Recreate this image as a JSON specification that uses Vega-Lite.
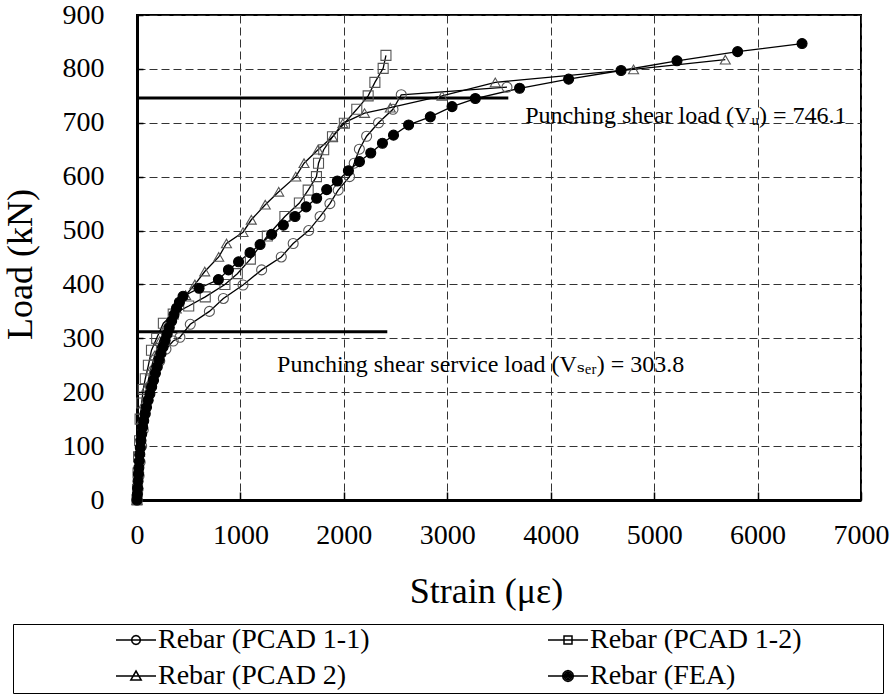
{
  "$schema": "https://vega.github.io/schema/vega-lite/v6.json",
  "width": 724,
  "height": 485,
  "autosize": {"type": "none"},
  "padding": {"left": 137, "top": 15, "right": 35, "bottom": 199},
  "background": "white",
  "config": {
    "view": {"stroke": "black", "strokeWidth": 2},
    "font": "Liberation Serif",
    "axis": {"labelFont": "Liberation Serif", "titleFont": "Liberation Serif"},
    "legend": {"labelFont": "Liberation Serif", "titleFont": "Liberation Serif"},
    "text": {"font": "Liberation Serif"}
  },
  "datasets": {
    "curves": [
      {"s": "Rebar (PCAD 1-1)", "strain": 0, "load": 0},
      {"s": "Rebar (PCAD 1-1)", "strain": 10, "load": 20},
      {"s": "Rebar (PCAD 1-1)", "strain": 20, "load": 45},
      {"s": "Rebar (PCAD 1-1)", "strain": 30, "load": 70},
      {"s": "Rebar (PCAD 1-1)", "strain": 45, "load": 100},
      {"s": "Rebar (PCAD 1-1)", "strain": 60, "load": 130},
      {"s": "Rebar (PCAD 1-1)", "strain": 80, "load": 160},
      {"s": "Rebar (PCAD 1-1)", "strain": 100, "load": 185},
      {"s": "Rebar (PCAD 1-1)", "strain": 130, "load": 210},
      {"s": "Rebar (PCAD 1-1)", "strain": 170, "load": 235},
      {"s": "Rebar (PCAD 1-1)", "strain": 220, "load": 258},
      {"s": "Rebar (PCAD 1-1)", "strain": 280, "load": 280},
      {"s": "Rebar (PCAD 1-1)", "strain": 350, "load": 295},
      {"s": "Rebar (PCAD 1-1)", "strain": 415, "load": 302},
      {"s": "Rebar (PCAD 1-1)", "strain": 515, "load": 326},
      {"s": "Rebar (PCAD 1-1)", "strain": 700, "load": 350},
      {"s": "Rebar (PCAD 1-1)", "strain": 835, "load": 374},
      {"s": "Rebar (PCAD 1-1)", "strain": 1025, "load": 399},
      {"s": "Rebar (PCAD 1-1)", "strain": 1205, "load": 427},
      {"s": "Rebar (PCAD 1-1)", "strain": 1395, "load": 451},
      {"s": "Rebar (PCAD 1-1)", "strain": 1510, "load": 476},
      {"s": "Rebar (PCAD 1-1)", "strain": 1660, "load": 500},
      {"s": "Rebar (PCAD 1-1)", "strain": 1770, "load": 526},
      {"s": "Rebar (PCAD 1-1)", "strain": 1865, "load": 550},
      {"s": "Rebar (PCAD 1-1)", "strain": 1945, "load": 575},
      {"s": "Rebar (PCAD 1-1)", "strain": 2055, "load": 600},
      {"s": "Rebar (PCAD 1-1)", "strain": 2100, "load": 625},
      {"s": "Rebar (PCAD 1-1)", "strain": 2150, "load": 651},
      {"s": "Rebar (PCAD 1-1)", "strain": 2220, "load": 675},
      {"s": "Rebar (PCAD 1-1)", "strain": 2335, "load": 700},
      {"s": "Rebar (PCAD 1-1)", "strain": 2475, "load": 725},
      {"s": "Rebar (PCAD 1-1)", "strain": 2555, "load": 752},
      {"s": "Rebar (PCAD 1-1)", "strain": 3577, "load": 766},

      {"s": "Rebar (PCAD 1-2)", "strain": 0, "load": 0},
      {"s": "Rebar (PCAD 1-2)", "strain": 5, "load": 20},
      {"s": "Rebar (PCAD 1-2)", "strain": 10, "load": 50},
      {"s": "Rebar (PCAD 1-2)", "strain": 15, "load": 80},
      {"s": "Rebar (PCAD 1-2)", "strain": 25, "load": 110},
      {"s": "Rebar (PCAD 1-2)", "strain": 30, "load": 150},
      {"s": "Rebar (PCAD 1-2)", "strain": 45, "load": 180},
      {"s": "Rebar (PCAD 1-2)", "strain": 60, "load": 205},
      {"s": "Rebar (PCAD 1-2)", "strain": 80, "load": 225},
      {"s": "Rebar (PCAD 1-2)", "strain": 110, "load": 250},
      {"s": "Rebar (PCAD 1-2)", "strain": 140, "load": 278},
      {"s": "Rebar (PCAD 1-2)", "strain": 190, "load": 300},
      {"s": "Rebar (PCAD 1-2)", "strain": 255, "load": 328},
      {"s": "Rebar (PCAD 1-2)", "strain": 350, "load": 345},
      {"s": "Rebar (PCAD 1-2)", "strain": 500, "load": 360},
      {"s": "Rebar (PCAD 1-2)", "strain": 660, "load": 377},
      {"s": "Rebar (PCAD 1-2)", "strain": 850, "load": 400},
      {"s": "Rebar (PCAD 1-2)", "strain": 970, "load": 420},
      {"s": "Rebar (PCAD 1-2)", "strain": 1096, "load": 447},
      {"s": "Rebar (PCAD 1-2)", "strain": 1260, "load": 490},
      {"s": "Rebar (PCAD 1-2)", "strain": 1430, "load": 526},
      {"s": "Rebar (PCAD 1-2)", "strain": 1570, "load": 551},
      {"s": "Rebar (PCAD 1-2)", "strain": 1655, "load": 575},
      {"s": "Rebar (PCAD 1-2)", "strain": 1735, "load": 600},
      {"s": "Rebar (PCAD 1-2)", "strain": 1755, "load": 625},
      {"s": "Rebar (PCAD 1-2)", "strain": 1805, "load": 650},
      {"s": "Rebar (PCAD 1-2)", "strain": 1890, "load": 674},
      {"s": "Rebar (PCAD 1-2)", "strain": 2005, "load": 699},
      {"s": "Rebar (PCAD 1-2)", "strain": 2125, "load": 725},
      {"s": "Rebar (PCAD 1-2)", "strain": 2235, "load": 750},
      {"s": "Rebar (PCAD 1-2)", "strain": 2300, "load": 775},
      {"s": "Rebar (PCAD 1-2)", "strain": 2380, "load": 801},
      {"s": "Rebar (PCAD 1-2)", "strain": 2407, "load": 825},

      {"s": "Rebar (PCAD 2)", "strain": 0, "load": 0},
      {"s": "Rebar (PCAD 2)", "strain": 8, "load": 30},
      {"s": "Rebar (PCAD 2)", "strain": 15, "load": 60},
      {"s": "Rebar (PCAD 2)", "strain": 25, "load": 90},
      {"s": "Rebar (PCAD 2)", "strain": 35, "load": 120},
      {"s": "Rebar (PCAD 2)", "strain": 50, "load": 150},
      {"s": "Rebar (PCAD 2)", "strain": 70, "load": 180},
      {"s": "Rebar (PCAD 2)", "strain": 95, "load": 210},
      {"s": "Rebar (PCAD 2)", "strain": 130, "load": 240},
      {"s": "Rebar (PCAD 2)", "strain": 170, "load": 268},
      {"s": "Rebar (PCAD 2)", "strain": 220, "load": 295},
      {"s": "Rebar (PCAD 2)", "strain": 290, "load": 325},
      {"s": "Rebar (PCAD 2)", "strain": 380, "load": 355},
      {"s": "Rebar (PCAD 2)", "strain": 470, "load": 380},
      {"s": "Rebar (PCAD 2)", "strain": 560, "load": 400},
      {"s": "Rebar (PCAD 2)", "strain": 655, "load": 424},
      {"s": "Rebar (PCAD 2)", "strain": 790, "load": 451},
      {"s": "Rebar (PCAD 2)", "strain": 865, "load": 476},
      {"s": "Rebar (PCAD 2)", "strain": 1025, "load": 497},
      {"s": "Rebar (PCAD 2)", "strain": 1105, "load": 520},
      {"s": "Rebar (PCAD 2)", "strain": 1240, "load": 548},
      {"s": "Rebar (PCAD 2)", "strain": 1370, "load": 572},
      {"s": "Rebar (PCAD 2)", "strain": 1535, "load": 600},
      {"s": "Rebar (PCAD 2)", "strain": 1615, "load": 625},
      {"s": "Rebar (PCAD 2)", "strain": 1750, "load": 650},
      {"s": "Rebar (PCAD 2)", "strain": 1890, "load": 674},
      {"s": "Rebar (PCAD 2)", "strain": 1990, "load": 699},
      {"s": "Rebar (PCAD 2)", "strain": 2200, "load": 718},
      {"s": "Rebar (PCAD 2)", "strain": 2449, "load": 728},
      {"s": "Rebar (PCAD 2)", "strain": 2949, "load": 750},
      {"s": "Rebar (PCAD 2)", "strain": 3464, "load": 775},
      {"s": "Rebar (PCAD 2)", "strain": 4801, "load": 799},
      {"s": "Rebar (PCAD 2)", "strain": 5688, "load": 817},

      {"s": "Rebar (FEA)", "strain": 0, "load": 0},
      {"s": "Rebar (FEA)", "strain": 3, "load": 10},
      {"s": "Rebar (FEA)", "strain": 6, "load": 22},
      {"s": "Rebar (FEA)", "strain": 10, "load": 35},
      {"s": "Rebar (FEA)", "strain": 14, "load": 48},
      {"s": "Rebar (FEA)", "strain": 18, "load": 60},
      {"s": "Rebar (FEA)", "strain": 22, "load": 72},
      {"s": "Rebar (FEA)", "strain": 27, "load": 85},
      {"s": "Rebar (FEA)", "strain": 32, "load": 97},
      {"s": "Rebar (FEA)", "strain": 38, "load": 110},
      {"s": "Rebar (FEA)", "strain": 45, "load": 122},
      {"s": "Rebar (FEA)", "strain": 55, "load": 135},
      {"s": "Rebar (FEA)", "strain": 65, "load": 147},
      {"s": "Rebar (FEA)", "strain": 78, "load": 160},
      {"s": "Rebar (FEA)", "strain": 92, "load": 172},
      {"s": "Rebar (FEA)", "strain": 108, "load": 185},
      {"s": "Rebar (FEA)", "strain": 125, "load": 197},
      {"s": "Rebar (FEA)", "strain": 142, "load": 210},
      {"s": "Rebar (FEA)", "strain": 160, "load": 222},
      {"s": "Rebar (FEA)", "strain": 178, "load": 235},
      {"s": "Rebar (FEA)", "strain": 196, "load": 247},
      {"s": "Rebar (FEA)", "strain": 214, "load": 260},
      {"s": "Rebar (FEA)", "strain": 232, "load": 272},
      {"s": "Rebar (FEA)", "strain": 252, "load": 284},
      {"s": "Rebar (FEA)", "strain": 272, "load": 296},
      {"s": "Rebar (FEA)", "strain": 292, "load": 308},
      {"s": "Rebar (FEA)", "strain": 312, "load": 320},
      {"s": "Rebar (FEA)", "strain": 335, "load": 332},
      {"s": "Rebar (FEA)", "strain": 358, "load": 344},
      {"s": "Rebar (FEA)", "strain": 382, "load": 356},
      {"s": "Rebar (FEA)", "strain": 410, "load": 367},
      {"s": "Rebar (FEA)", "strain": 445, "load": 378},
      {"s": "Rebar (FEA)", "strain": 600, "load": 393},
      {"s": "Rebar (FEA)", "strain": 787, "load": 409},
      {"s": "Rebar (FEA)", "strain": 884, "load": 427},
      {"s": "Rebar (FEA)", "strain": 982, "load": 442},
      {"s": "Rebar (FEA)", "strain": 1093, "load": 459},
      {"s": "Rebar (FEA)", "strain": 1190, "load": 474},
      {"s": "Rebar (FEA)", "strain": 1302, "load": 493},
      {"s": "Rebar (FEA)", "strain": 1415, "load": 510},
      {"s": "Rebar (FEA)", "strain": 1528, "load": 526},
      {"s": "Rebar (FEA)", "strain": 1635, "load": 544},
      {"s": "Rebar (FEA)", "strain": 1737, "load": 560},
      {"s": "Rebar (FEA)", "strain": 1834, "load": 576},
      {"s": "Rebar (FEA)", "strain": 1937, "load": 592},
      {"s": "Rebar (FEA)", "strain": 2044, "load": 611},
      {"s": "Rebar (FEA)", "strain": 2151, "load": 628},
      {"s": "Rebar (FEA)", "strain": 2260, "load": 644},
      {"s": "Rebar (FEA)", "strain": 2373, "load": 662},
      {"s": "Rebar (FEA)", "strain": 2480, "load": 677},
      {"s": "Rebar (FEA)", "strain": 2626, "load": 696},
      {"s": "Rebar (FEA)", "strain": 2836, "load": 711},
      {"s": "Rebar (FEA)", "strain": 3046, "load": 730},
      {"s": "Rebar (FEA)", "strain": 3271, "load": 745},
      {"s": "Rebar (FEA)", "strain": 3699, "load": 764},
      {"s": "Rebar (FEA)", "strain": 4173, "load": 781},
      {"s": "Rebar (FEA)", "strain": 4680, "load": 797},
      {"s": "Rebar (FEA)", "strain": 5221, "load": 815},
      {"s": "Rebar (FEA)", "strain": 5807, "load": 832},
      {"s": "Rebar (FEA)", "strain": 6430, "load": 847}
    ],
    "refs": [
      {"strain": 0, "strain2": 3590, "load": 746.1},
      {"strain": 0, "strain2": 2420, "load": 312}
    ],
    "notes": [
      {"note": "Punching shear load (Vᵤ) = 746.1", "strain": 3754, "load": 712},
      {"note": "Punching shear service load (Vₛₑᵣ) = 303.8", "strain": 1354, "load": 251}
    ]
  },
  "encoding": {
    "x": {
      "field": "strain", "type": "quantitative",
      "scale": {"domain": [0, 7000], "nice": false, "zero": false},
      "axis": {
        "title": "Strain (με)",
        "values": [0, 1000, 2000, 3000, 4000, 5000, 6000, 7000],
        "format": "d",
        "grid": true, "gridColor": "#333", "gridDash": [8, 4], "gridWidth": 1,
        "domainColor": "black", "domainWidth": 3,
        "ticks": true, "tickColor": "black", "tickSize": -8, "tickWidth": 1.5,
        "labelFont": "Liberation Serif", "labelFontSize": 28, "labelColor": "black",
        "labelPadding": 29, "labelFlush": false, "labelOverlap": false,
        "titleFont": "Liberation Serif", "titleFontSize": 36, "titleFontWeight": "normal",
        "titleColor": "black", "titleX": 349, "titleY": 91, "titleBaseline": "middle", "titleAlign": "center"
      }
    },
    "y": {
      "field": "load", "type": "quantitative",
      "scale": {"domain": [0, 900], "nice": false, "zero": false},
      "axis": {
        "title": "Load (kN)",
        "values": [0, 100, 200, 300, 400, 500, 600, 700, 800, 900],
        "format": "d",
        "grid": true, "gridColor": "#333", "gridDash": [8, 4], "gridWidth": 1,
        "domainColor": "black", "domainWidth": 3,
        "ticks": true, "tickColor": "black", "tickSize": -6, "tickWidth": 1.5,
        "labelFont": "Liberation Serif", "labelFontSize": 28, "labelColor": "black",
        "labelPadding": 39, "labelFlush": false, "labelOverlap": false,
        "titleFont": "Liberation Serif", "titleFontSize": 36, "titleFontWeight": "normal",
        "titleColor": "black", "titleX": -117, "titleY": 249, "titleBaseline": "middle", "titleAlign": "center", "titleAngle": -90
      }
    }
  },
  "layer": [
    {
      "data": {"name": "refs"},
      "mark": {"type": "rule", "color": "black", "strokeWidth": 3},
      "encoding": {"x2": {"field": "strain2"}}
    },
    {
      "data": {"name": "curves"},
      "mark": {"type": "line", "color": "black", "strokeWidth": 1.3},
      "encoding": {
        "detail": {"field": "s", "type": "nominal"},
        "order": {"field": "load", "type": "quantitative"}
      }
    },
    {
      "data": {"name": "curves"},
      "mark": {"type": "point", "size": 100, "strokeWidth": 1.1, "opacity": 1},
      "encoding": {
        "shape": {
          "condition": [
            {"test": "datum.s === 'Rebar (PCAD 1-2)'", "value": "square"},
            {"test": "datum.s === 'Rebar (PCAD 2)'", "value": "triangle-up"}
          ],
          "value": "circle"
        },
        "fill": {"condition": {"test": "datum.s === 'Rebar (FEA)'", "value": "black"}, "value": "transparent"},
        "stroke": {"condition": {"test": "datum.s === 'Rebar (FEA)'", "value": "black"}, "value": "#555"}
      }
    },
    {
      "data": {"name": "curves"},
      "transform": [{"filter": "false"}],
      "mark": {"type": "point", "size": 1600, "strokeWidth": 1.5, "stroke": "black", "filled": false, "opacity": 1},
      "encoding": {
        "shape": {
          "field": "s", "type": "nominal",
          "scale": {
            "domain": ["Rebar (PCAD 1-1)", "Rebar (PCAD 1-2)", "Rebar (PCAD 2)", "Rebar (FEA)"],
            "range": [
              "M-1,0L1,0M0.22,0L0.19,0.11L0.11,0.19L0,0.22L-0.11,0.19L-0.19,0.11L-0.22,0L-0.19,-0.11L-0.11,-0.19L0,-0.22L0.11,-0.19L0.19,-0.11Z",
              "M-1,0L1,0M-0.2,-0.2L0.2,-0.2L0.2,0.2L-0.2,0.2Z",
              "M-1,0L1,0M0,-0.25L0.26,0.2L-0.26,0.2Z",
              "M-1,0L1,0M0.27,0L0.234,0.135L0.135,0.234L0,0.27L-0.135,0.234L-0.234,0.135L-0.27,0L-0.234,-0.135L-0.135,-0.234L0,-0.27L0.135,-0.234L0.234,-0.135ZM0.19,0L0.165,0.095L0.095,0.165L0,0.19L-0.095,0.165L-0.165,0.095L-0.19,0L-0.165,-0.095L-0.095,-0.165L0,-0.19L0.095,-0.165L0.165,-0.095ZM0.11,0L0.095,0.055L0.055,0.095L0,0.11L-0.055,0.095L-0.095,0.055L-0.11,0L-0.095,-0.055L-0.055,-0.095L0,-0.11L0.055,-0.095L0.095,-0.055ZM0.04,0L0,0.04L-0.04,0L0,-0.04Z"
            ]
          },
          "legend": {
            "orient": "none", "legendX": -124, "legendY": 609,
            "columns": 2, "direction": "horizontal",
            "title": " ", "titleOrient": "right", "titleFontSize": 10, "titlePadding": 78,
            "labelFont": "Liberation Serif", "labelFontSize": 28, "labelColor": "black",
            "labelLimit": 1000, "labelOffset": 1, "symbolOffset": 99,
            "symbolSize": 1600, "symbolStrokeWidth": 1.5, "symbolStrokeColor": "black", "symbolFillColor": "transparent",
            "columnPadding": 78, "rowPadding": 8, "padding": 3, "clipHeight": 26,
            "strokeColor": "black",
            "encode": {
              "legend": {"update": {"strokeWidth": {"value": 2}}}
            }
          }
        }
      }
    },
    {
      "data": {"name": "notes"},
      "mark": {"type": "text", "align": "left", "baseline": "middle", "font": "Liberation Serif, DejaVu Serif", "fontSize": 24, "color": "black"},
      "encoding": {"text": {"field": "note"}}
    }
  ]
}
